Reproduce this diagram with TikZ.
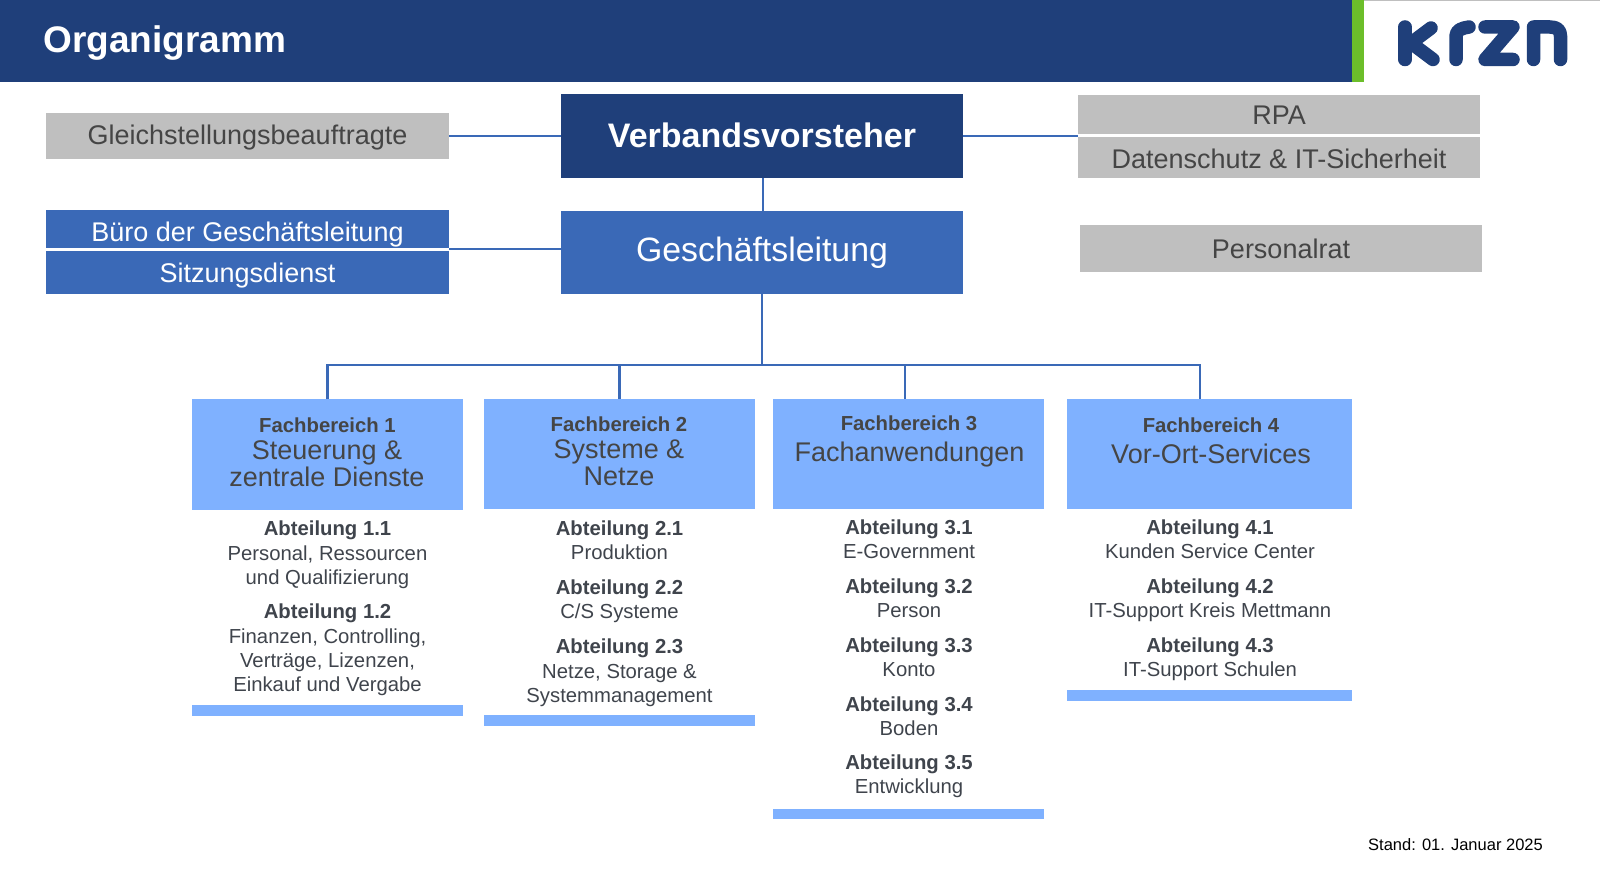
\documentclass[tikz,border=0pt]{standalone}
\usepackage{fontspec}
\setmainfont{Liberation Sans}
\definecolor{navy}{HTML}{1F3F7A}
\definecolor{midblue}{HTML}{3A69B7}
\definecolor{lightblue}{HTML}{7FB1FF}
\definecolor{greybox}{HTML}{BFBFBF}
\definecolor{greytext}{HTML}{454545}
\definecolor{bodytext}{HTML}{3F444C}
\definecolor{limegreen}{HTML}{6CBE2A}
\tikzset{
  x=1pt,y=-1pt,
  box/.style={anchor=center,inner sep=0pt,outer sep=0pt,text centered},
  link/.style={draw=midblue,line width=2.2pt},
  navybox/.style={fill=navy,draw=none},
  midbox/.style={fill=midblue,draw=none},
  lightbox/.style={fill=lightblue,draw=none},
  greyrect/.style={fill=greybox,draw=none},
  lab/.style={anchor=center,inner sep=0pt,outer sep=0pt,align=center},
  graylab/.style={lab,text=greytext,font=\fontsize{27}{32}\selectfont},
  whitelab/.style={lab,text=white},
  fbhead/.style={lab,text=greytext,font=\fontsize{20.3}{24}\selectfont\bfseries},
  fbname/.style={lab,text=greytext,font=\fontsize{27}{27.5}\selectfont},
  dept/.style={lab,text=bodytext,font=\fontsize{20.3}{24.4}\selectfont},
  logo/.style={draw=navy,line width=13.5pt,line cap=round,line join=round},
}
\newcommand{\rectnode}[6]{% name, style, x1, y1, x2, y2
  \node[#2,box,minimum width=\dimexpr#5pt-#3pt\relax,minimum height=\dimexpr#6pt-#4pt\relax] (#1) at ({(#3+#5)/2},{(#4+#6)/2}) {};}
\begin{document}
\begin{tikzpicture}
\useasboundingbox (0,0) rectangle (1600,872);
% header
\fill[navy] (0,0) rectangle (1352,82);
\fill[limegreen] (1352,0) rectangle (1364,82);
\fill[greybox] (1364,0) rectangle (1600,1);
\node[lab,anchor=west,text=white,font=\fontsize{37}{40}\selectfont\bfseries] (title) at (43.5,43) {Organigramm};
% logo
\draw[logo] (1405,27) -- (1405,59.5);
\draw[logo] (1431,28) -- (1411,43) -- (1433,59.5);
\draw[logo] (1456,59.5) -- (1456,36) .. controls (1456,30) and (1462,28) .. (1469,27);
\draw[logo] (1485,27) -- (1513,27) -- (1485,59.5) -- (1513,59.5);
\draw[logo] (1533.5,59.5) -- (1533.5,27) -- (1550,27) .. controls (1557,27) and (1560.5,30) .. (1560.5,36) -- (1560.5,59.5);
% boxes
\rectnode{gleich}{greyrect}{46.4}{112.7}{449}{159}
\rectnode{vorst}{navybox}{560.7}{94.3}{963}{178}
\rectnode{gesch}{midbox}{560.7}{211.3}{963}{294}
\rectnode{buero}{midbox}{46.4}{210.3}{449}{247.7}
\rectnode{sitz}{midbox}{46.4}{250.5}{449}{294}
\rectnode{rpa}{greyrect}{1077.8}{95}{1480}{133.7}
\rectnode{daten}{greyrect}{1077.8}{137}{1480}{178}
\rectnode{prat}{greyrect}{1079.5}{225.3}{1482}{271.7}
\rectnode{fb1}{lightbox}{192.3}{399.3}{463.3}{509.7}
\rectnode{fb2}{lightbox}{484}{399.3}{755.3}{509}
\rectnode{fb3}{lightbox}{772.7}{399.3}{1044}{509}
\rectnode{fb4}{lightbox}{1067}{399.3}{1352}{509}
\rectnode{bar1}{lightbox}{192.3}{705}{463.3}{716}
\rectnode{bar2}{lightbox}{484}{715}{755.3}{726}
\rectnode{bar3}{lightbox}{772.7}{808.5}{1044}{818.5}
\rectnode{bar4}{lightbox}{1067}{690}{1352}{700.5}
% connectors
\coordinate (row1) at (0,136);
\coordinate (row2) at (0,249.3);
\coordinate (vx) at (763,0);
\coordinate (hub) at (762,365.3);
\coordinate (j1) at (327.5,365.3);
\coordinate (j2) at (619.4,365.3);
\coordinate (j3) at (905.3,365.3);
\coordinate (j4) at (1200.2,365.3);
\draw[link] (gleich.east |- row1) -- (vorst.west |- row1);
\draw[link] (vorst.east |- row1) -- (daten.west |- row1);
\draw[link] (buero.east |- row2) -- (gesch.west |- row2);
\draw[link] (vorst.south -| vx) -- (gesch.north -| vx);
\draw[link] (gesch.south -| hub) -- (hub);
\draw[link,line join=miter] (j1 |- fb1.north) -- (j1) -- (j4) -- (j4 |- fb4.north);
\draw[link] (j2) -- (j2 |- fb2.north);
\draw[link] (j3) -- (j3 |- fb3.north);
% box labels
\node[graylab] (tg) at (247.5,138) {Gleichstellungsbeauftragte};
\node[whitelab,font=\fontsize{34}{38}\selectfont\bfseries] (tv) at (762,135.5) {Verbandsvorsteher};
\node[whitelab,font=\fontsize{33.8}{38}\selectfont] (tgl) at (762,253) {Geschäftsleitung};
\node[whitelab,font=\fontsize{27}{30}\selectfont] (tb) at (247.5,234.5) {Büro der Geschäftsleitung};
\node[whitelab,font=\fontsize{27}{30}\selectfont] (ts) at (247.5,276) {Sitzungsdienst};
\node[graylab] (tr) at (1279,115.5) {RPA};
\node[graylab] (td) at (1279,159) {Datenschutz \& IT-Sicherheit};
\node[graylab] (tp) at (1281,248.5) {Personalrat};
\node[fbhead] (h1) at (327.5,425) {Fachbereich 1};
\node[fbname] (n1) at (327,463.5) {Steuerung \&\\zentrale Dienste};
\node[fbhead] (h2) at (619,424.5) {Fachbereich 2};
\node[fbname] (n2) at (619,462.5) {Systeme \&\\Netze};
\node[fbhead] (h3) at (909,423.5) {Fachbereich 3};
\node[fbname] (n3) at (909.5,455) {Fachanwendungen};
\node[fbhead] (h4) at (1211,425) {Fachbereich 4};
\node[fbname] (n4) at (1211,454) {Vor-Ort-Services};
% departments
\node[dept] (d1) at (327.5,555) {\textbf{Abteilung 1.1}\\Personal, Ressourcen\\und Qualifizierung};
\node[dept] (d2) at (327.5,650) {\textbf{Abteilung 1.2}\\Finanzen, Controlling,\\Verträge, Lizenzen,\\Einkauf und Vergabe};
\node[dept] (d3) at (619.5,540.5) {\textbf{Abteilung 2.1}\\Produktion};
\node[dept] (d4) at (619.5,601.5) {\textbf{Abteilung 2.2}\\C/S Systeme};
\node[dept] (d5) at (619.5,673) {\textbf{Abteilung 2.3}\\Netze, Storage \&\\Systemmanagement};
\node[dept] (d6) at (909,539.5) {\textbf{Abteilung 3.1}\\E-Government};
\node[dept] (d7) at (909,598.5) {\textbf{Abteilung 3.2}\\Person};
\node[dept] (d8) at (909,657.5) {\textbf{Abteilung 3.3}\\Konto};
\node[dept] (d9) at (909,716.5) {\textbf{Abteilung 3.4}\\Boden};
\node[dept] (d10) at (909,776.5) {\textbf{Abteilung 3.5}\\Entwicklung};
\node[dept] (d11) at (1210,539.5) {\textbf{Abteilung 4.1}\\Kunden Service Center};
\node[dept] (d12) at (1210,600.5) {\textbf{Abteilung 4.2}\\IT-Support Kreis Mettmann};
\node[dept] (d13) at (1210,659.5) {\textbf{Abteilung 4.3}\\IT-Support Schulen};
\node[lab,text=black,font=\fontsize{16.5}{19}\selectfont] (stand) at (1455.5,845) {Stand: 01. Januar 2025};
\end{tikzpicture}
\end{document}
